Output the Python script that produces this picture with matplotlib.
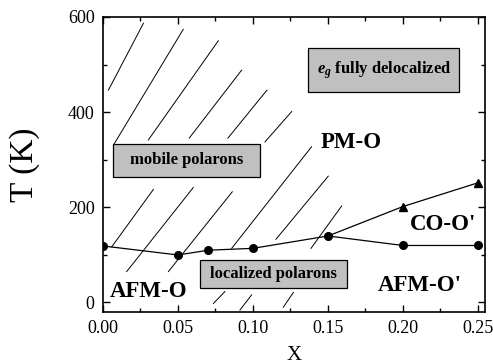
import matplotlib
matplotlib.use("Agg")
import matplotlib.pyplot as plt
from matplotlib.ticker import MultipleLocator

plt.rcParams['font.family'] = ['Liberation Serif', 'DejaVu Serif']
plt.rcParams['mathtext.fontset'] = 'custom'
plt.rcParams['mathtext.it'] = 'Liberation Serif:italic:bold'
plt.rcParams['mathtext.rm'] = 'Liberation Serif:bold'

# transition temperatures
x_neel = [0.0, 0.05, 0.07, 0.10, 0.15, 0.20, 0.25]
t_neel = [118, 99, 109, 113, 139, 119, 119]
x_co = [0.15, 0.20, 0.25]
t_co = [139, 201, 251]

# hatch strokes (x0, T0, x1, T1)
hatch_upper = [
    (0.0036, 446, 0.027, 587),
    (0.0069, 330, 0.0535, 574),
    (0.0302, 341, 0.0769, 550),
    (0.0575, 345, 0.0924, 488),
    (0.0833, 345, 0.1093, 446),
    (0.108, 337, 0.1258, 401),
]
hatch_lower = [
    (0.0058, 116, 0.0336, 237),
    (0.0158, 64, 0.0602, 241),
    (0.0436, 64, 0.0862, 232),
    (0.0858, 113, 0.1391, 327),
    (0.1153, 132, 0.1502, 265),
    (0.1387, 113, 0.1591, 202),
    (0.0736, -3, 0.0813, 22),
    (0.0913, -17, 0.0991, 15),
    (0.1202, -11, 0.1269, 20),
]

# gray boxes: (x0, x1, T0, T1, label)
boxes = [
    (0.0067, 0.1047, 263, 333, 'mobile polarons'),
    (0.137, 0.2375, 443, 535, r'$e_g$ fully delocalized'),
    (0.0647, 0.1625, 29, 88, 'localized polarons'),
]

# phase labels
phase_x = [0.0047, 0.145, 0.2047, 0.1833]
phase_t = [23, 335, 164, 35]
phase_names = ['AFM-O', 'PM-O', "CO-O'", "AFM-O'"]

fig = plt.figure(figsize=(4.93, 3.64), dpi=100)
ax = fig.add_axes([0.2089, 0.1429, 0.9838 - 0.2089, 0.9533 - 0.1429])

for x0, t0, x1, t1 in hatch_upper + hatch_lower:
    ax.plot([x0, x1], [t0, t1], color='black', lw=0.7, zorder=1)

for x0, x1, t0, t1, label in boxes:
    ax.add_patch(plt.Rectangle((x0, t0), x1 - x0, t1 - t0, facecolor='#c0c0c0',
                               edgecolor='black', lw=0.9, zorder=3))
    ax.text((x0 + x1) / 2, (t0 + t1) / 2, label, ha='center', va='center',
            fontsize=12, fontweight='bold', zorder=4)

# the shared point at x=0.15 is drawn as a circle only
ax.plot(x_co, t_co, color='black', lw=0.9, marker='^', ms=5.5, markevery=[1, 2], zorder=5)
ax.plot(x_neel, t_neel, color='black', lw=0.9, marker='o', ms=5.5, zorder=6)

for x, t, name in zip(phase_x, phase_t, phase_names):
    ax.text(x, t, name, ha='left', va='center', fontsize=16.5, fontweight='bold', zorder=7)

ax.set_xlim(0, 0.2547)
ax.set_ylim(-21, 600)
ax.xaxis.set_major_locator(MultipleLocator(0.05))
ax.xaxis.set_minor_locator(MultipleLocator(0.025))
ax.yaxis.set_major_locator(MultipleLocator(200))
ax.yaxis.set_minor_locator(MultipleLocator(100))
ax.xaxis.set_major_formatter(plt.FuncFormatter(lambda v, p: f'{v:.2f}'))
ax.tick_params(which='both', direction='in', top=True, right=True, labelsize=13, width=1)
ax.tick_params(which='major', length=5, pad=6)
ax.tick_params(which='minor', length=3)
for s in ax.spines.values():
    s.set_linewidth(1.2)

ax.set_xlabel('X', fontsize=15, labelpad=6)
ax.set_ylabel('T (K)', fontsize=24, labelpad=20)

fig.savefig('out.png', dpi=100)
